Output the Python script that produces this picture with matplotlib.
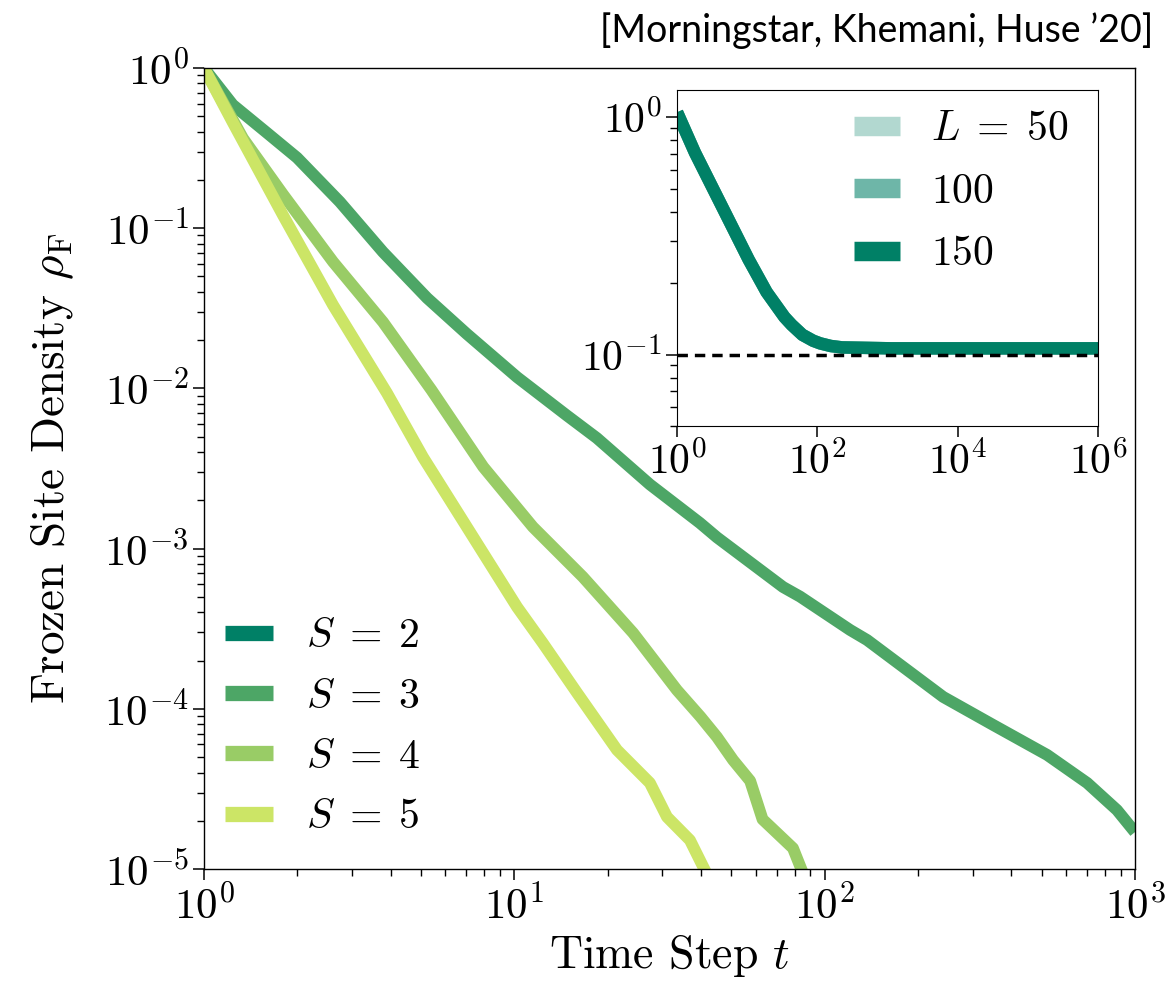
import numpy as np
import matplotlib
matplotlib.use('Agg')
import matplotlib.pyplot as plt
from matplotlib.lines import Line2D
from matplotlib.ticker import LogLocator, NullLocator

plt.rcParams['font.family'] = 'serif'
plt.rcParams['font.serif'] = ['cmr10']
plt.rcParams['mathtext.fontset'] = 'cm'
plt.rcParams['axes.formatter.use_mathtext'] = True
plt.rcParams['axes.unicode_minus'] = False

# main panel data, log10 values
s3_logt = [0.0, 0.093, 0.20, 0.30, 0.438, 0.577, 0.719, 0.847, 1.009, 1.17, 1.266, 1.437, 1.598,
           1.653, 1.866, 1.921, 2.082, 2.137, 2.382, 2.543, 2.717, 2.846, 2.942, 3.0]
s3_logy = [0.0, -0.23, -0.40, -0.56, -0.836, -1.149, -1.436, -1.66, -1.93, -2.17, -2.31, -2.60, -2.84,
           -2.93, -3.24, -3.30, -3.508, -3.571, -3.926, -4.101, -4.288, -4.463, -4.632, -4.77]

s4_logt = [0.0, 0.126, 0.255, 0.416, 0.577, 0.733, 0.90, 1.06, 1.221, 1.383, 1.524, 1.60,
           1.653, 1.705, 1.76, 1.80, 1.898, 1.935]
s4_logy = [0.0, -0.44, -0.79, -1.21, -1.586, -2.01, -2.49, -2.865, -3.177, -3.527, -3.883, -4.05,
           -4.176, -4.32, -4.45, -4.69, -4.87, -5.05]

s5_logt = [0.0, 0.093, 0.255, 0.416, 0.59, 0.706, 0.847, 1.009, 1.092, 1.202, 1.331, 1.437,
           1.492, 1.566, 1.625]
s5_logy = [0.0, -0.34, -0.92, -1.48, -2.03, -2.43, -2.865, -3.365, -3.59, -3.90, -4.257, -4.463,
           -4.675, -4.82, -5.05]

s_labels = [r'$S\;=\;2$', r'$S\;=\;3$', r'$S\;=\;4$', r'$S\;=\;5$']
s_colors = ['#008066', '#4da666', '#99cc66', '#cce566']

# inset data
inset_logt = [0.0, 0.255, 0.51, 0.765, 1.02, 1.276, 1.53, 1.633, 1.786, 1.94, 2.04, 2.19, 2.35,
              3.06, 6.0]
inset_logy = [0.02, -0.15, -0.30, -0.45, -0.60, -0.737, -0.842, -0.875, -0.917, -0.942, -0.953,
              -0.964, -0.97, -0.974, -0.974]
L_labels = [r'$L\;=\;50$', '$100$', '$150$']
L_alpha = [0.3, 0.57, 1.0]
inset_color = '#008066'
plateau = 0.1

fig = plt.figure(figsize=(11.72, 10.01), dpi=100)
ax = fig.add_axes([0.174, 0.1319, 0.7944, 0.8002])

for lt, ly, c in [(s3_logt, s3_logy, s_colors[1]),
                  (s4_logt, s4_logy, s_colors[2]),
                  (s5_logt, s5_logy, s_colors[3])]:
    ax.plot(10 ** np.array(lt), 10 ** np.array(ly), color=c, lw=8.5,
            solid_capstyle='butt', solid_joinstyle='round')

ax.set_xscale('log')
ax.set_yscale('log')
ax.set_xlim(1, 1e3)
ax.set_ylim(1e-5, 1)
ax.set_xlabel('Time Step $t$', fontsize=33, labelpad=4)
ax.set_ylabel(r'Frozen Site Density $\rho_\mathrm{F}$', fontsize=34, labelpad=20)
ax.yaxis.set_major_locator(LogLocator(base=10, numticks=10))
ax.yaxis.set_minor_locator(LogLocator(base=10, subs=np.arange(2, 10), numticks=20))
ax.tick_params(which='major', length=8, width=1.1, labelsize=31, pad=3)
ax.tick_params(which='minor', length=5, width=1.0)
for sp in ax.spines.values():
    sp.set_linewidth(1.0)

handles = [Line2D([], [], color=c, lw=11, solid_capstyle='butt') for c in s_colors]
ax.legend(handles, s_labels, loc='lower left', bbox_to_anchor=(-0.018, -0.006), frameon=False,
          fontsize=30, handlelength=1.15, handletextpad=0.8, labelspacing=0.55)

# inset
axi = fig.add_axes([0.5777, 0.5744, 0.3592, 0.3357])
for lab, a in zip(L_labels, L_alpha):
    axi.plot(10 ** np.array(inset_logt), 10 ** np.array(inset_logy), color=inset_color,
             alpha=a, lw=9, label=lab, solid_capstyle='butt', solid_joinstyle='round')
axi.axhline(plateau, color='black', lw=2.5, ls=(0, (3, 2)))
axi.set_xscale('log')
axi.set_yscale('log')
axi.set_xlim(1, 1e6)
axi.set_ylim(0.05, 1.3)
axi.set_xticks([1, 1e2, 1e4, 1e6])
axi.xaxis.set_minor_locator(NullLocator())
axi.tick_params(which='major', length=8, width=1.1, labelsize=30, pad=3)
axi.tick_params(which='minor', length=5, width=1.0)
leg = axi.legend(loc='upper right', bbox_to_anchor=(0.98, 1.0), frameon=False, fontsize=30,
                 handlelength=1.1, handletextpad=0.75, labelspacing=0.6, borderaxespad=0.1)
for h in leg.get_lines():
    h.set_linewidth(14)

fig.text(0.984, 0.988, "[Morningstar, Khemani, Huse \u201920]", ha='right', va='top',
         fontsize=27, family='Lato')

fig.savefig('out.png', dpi=100)
